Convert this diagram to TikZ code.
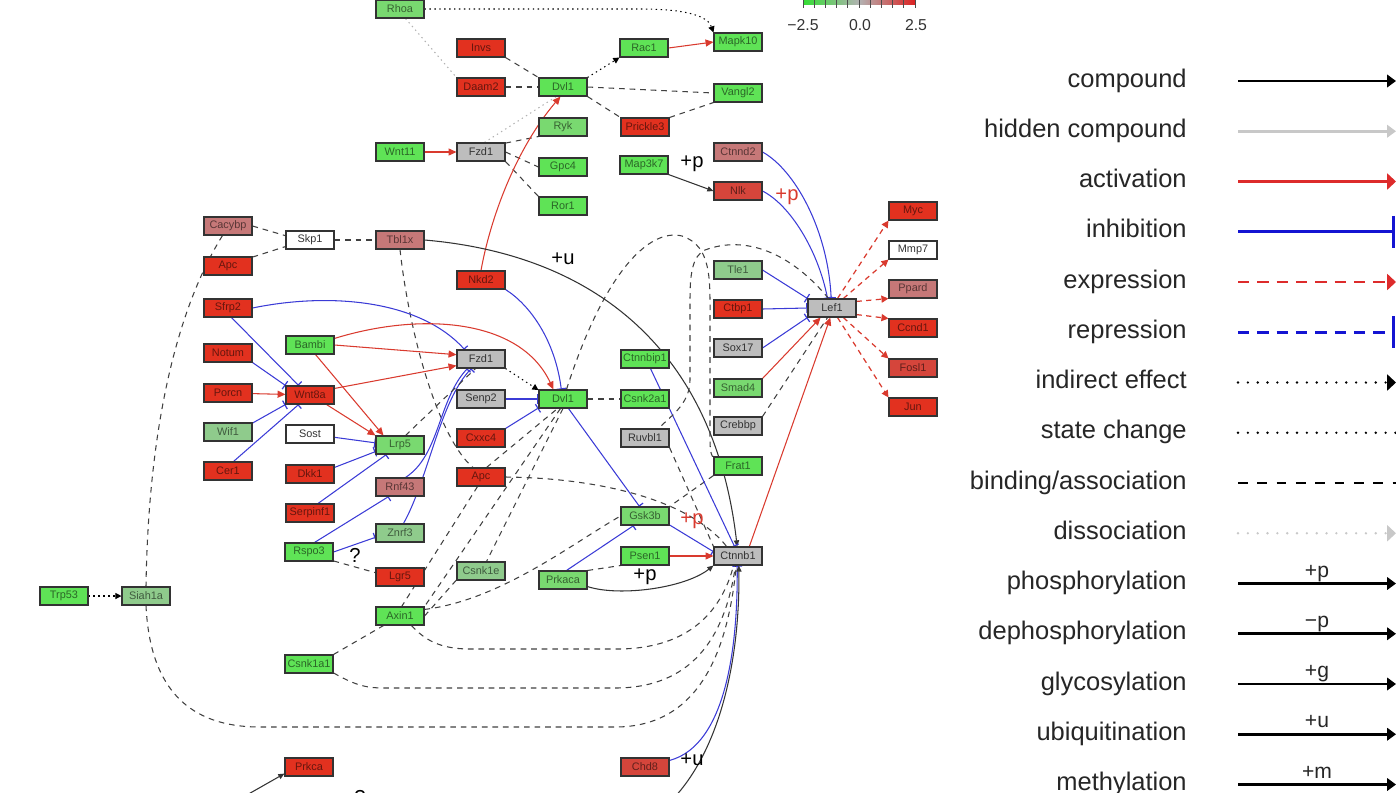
\documentclass[tikz,border=0pt]{standalone}
\usepackage{fontspec}
\setmainfont{Liberation Sans}
\usepackage{tikz}
\usetikzlibrary{arrows.meta,backgrounds}
\definecolor{kgreen}{HTML}{5FE356}
\definecolor{kmid}{HTML}{79D970}
\definecolor{kpale}{HTML}{8FCB8C}
\definecolor{kred}{HTML}{E2311F}
\definecolor{kredb}{HTML}{D5453B}
\definecolor{krose}{HTML}{C67878}
\definecolor{kgrey}{HTML}{BDBDBD}
\definecolor{kwhite}{HTML}{FFFFFF}
\definecolor{actred}{HTML}{D93A2E}
\definecolor{inhblue}{HTML}{3B3BD6}
\definecolor{legred}{HTML}{DD2B2B}
\definecolor{legblue}{HTML}{1414D2}
\definecolor{legsilver}{HTML}{C8C8C8}
\definecolor{cbgreen}{HTML}{33DD33}
\definecolor{cbred}{HTML}{DD2222}
\tikzset{
  gene/.style={rectangle,draw=black!80,line width=0.6pt,fill=#1,text=#1!45!black,
    minimum width=0.96cm,minimum height=0.36cm,inner sep=0pt,font=\fontsize{6.2}{7}\selectfont},
  gene/.default=kgreen,
  activ/.style={-{Triangle[length=4.5pt,width=4pt]},draw=actred,line width=0.6pt},
  inhib/.style={-{Bar[width=5.5pt,line width=0.7pt]},draw=inhblue,line width=0.6pt},
  bind/.style={draw=black!75,dash pattern=on 3.2pt off 2.8pt,line width=0.6pt},
  expr/.style={-{Triangle[length=4pt,width=4pt]},draw=actred,dash pattern=on 3pt off 2.5pt,line width=0.7pt},
  indir/.style={-{Triangle[length=3.5pt,width=3.5pt]},draw=black,dash pattern=on 0.8pt off 2pt,line width=0.6pt},
  dissoc/.style={draw=black!30,dash pattern=on 0.8pt off 2pt,line width=0.6pt},
  modif/.style={-{Triangle[length=3.5pt,width=3pt]},draw=black!80,line width=0.6pt},
  modlabel/.style={font=\fontsize{11.5}{12}\selectfont,inner sep=0pt},
  legtext/.style={anchor=base east,inner sep=0pt,font=\fontsize{14.5}{16}\selectfont,text=black!85},
  legline/.style={line width=1.5pt},
  legmod/.style={anchor=base,font=\fontsize{12}{13}\selectfont,inner sep=0pt,text=black!85}
}
\begin{document}
\begin{tikzpicture}[x=0.02cm,y=-0.02cm]
\useasboundingbox (0,0) rectangle (1396,792);

\node[gene=kmid] (rhoa) at (400,9) {Rhoa};
\node[gene=kgreen] (mapk) at (738,42) {Mapk10};
\node[gene=kred] (inv) at (481,48) {Invs};
\node[gene=kgreen] (rac) at (644,48) {Rac1};
\node[gene=kred] (daam) at (481,87) {Daam2};
\node[gene=kgreen] (dvlA) at (563,87) {Dvl1};
\node[gene=kgreen] (vangl) at (738,93) {Vangl2};
\node[gene=kmid] (ryk) at (563,127) {Ryk};
\node[gene=kred] (prickle) at (645,127) {Prickle3};
\node[gene=kgreen] (wnt11) at (400,152) {Wnt11};
\node[gene=kgrey,text=black!80] (fzdA) at (481,152) {Fzd1};
\node[gene=kgreen] (gpc) at (563,167) {Gpc4};
\node[gene=kgreen] (map3k7) at (644,165) {Map3k7};
\node[gene=krose] (ctnnd) at (738,152) {Ctnnd2};
\node[gene=kredb] (nlk) at (738,191) {Nlk};
\node[gene=kgreen] (ror) at (563,206) {Ror1};
\node[gene=kred] (myc) at (913,211) {Myc};
\node[gene=krose] (cacybp) at (228,226) {Cacybp};
\node[gene=kwhite,text=black!80] (skp) at (310,240) {Skp1};
\node[gene=krose] (tbl) at (400,240) {Tbl1x};
\node[gene=kwhite,text=black!80] (mmp) at (913,250) {Mmp7};
\node[gene=kred] (apcA) at (228,266) {Apc};
\node[gene=kpale] (tle) at (738,270) {Tle1};
\node[gene=kred] (nkd) at (481,280) {Nkd2};
\node[gene=krose] (ppard) at (913,289) {Ppard};
\node[gene=kred] (sfrp) at (228,308) {Sfrp2};
\node[gene=kred] (ctbp) at (738,309) {Ctbp1};
\node[gene=kgrey,text=black!80] (lef) at (832,308) {Lef1};
\node[gene=kred] (ccnd) at (913,328) {Ccnd1};
\node[gene=kgreen] (bambi) at (310,345) {Bambi};
\node[gene=kred] (notum) at (228,353) {Notum};
\node[gene=kgrey,text=black!80] (fzdB) at (481,359) {Fzd1};
\node[gene=kgreen] (ctnnbip) at (645,359) {Ctnnbip1};
\node[gene=kgrey,text=black!80] (sox) at (738,348) {Sox17};
\node[gene=kredb] (fosl) at (913,368) {Fosl1};
\node[gene=kred] (porcn) at (228,393) {Porcn};
\node[gene=kred] (wnt8) at (310,395) {Wnt8a};
\node[gene=kgrey,text=black!80] (senp) at (481,399) {Senp2};
\node[gene=kgreen] (dvlB) at (563,399) {Dvl1};
\node[gene=kgreen] (csnk2) at (645,399) {Csnk2a1};
\node[gene=kmid] (smad) at (738,388) {Smad4};
\node[gene=kred] (jun) at (913,407) {Jun};
\node[gene=kpale] (wif) at (228,432) {Wif1};
\node[gene=kwhite,text=black!80] (sost) at (310,434) {Sost};
\node[gene=kmid] (lrp) at (400,445) {Lrp5};
\node[gene=kred] (cxxc) at (481,438) {Cxxc4};
\node[gene=kgrey,text=black!80] (ruvbl) at (645,438) {Ruvbl1};
\node[gene=kgrey,text=black!80] (crebbp) at (738,426) {Crebbp};
\node[gene=kred] (cer) at (228,471) {Cer1};
\node[gene=kred] (dkk) at (310,474) {Dkk1};
\node[gene=kgreen] (frat) at (738,466) {Frat1};
\node[gene=kred] (apcB) at (481,477) {Apc};
\node[gene=krose] (rnf) at (400,487) {Rnf43};
\node[gene=kred] (serp) at (310,513) {Serpinf1};
\node[gene=kmid] (gsk) at (645,516) {Gsk3b};
\node[gene=kpale] (znrf) at (400,533) {Znrf3};
\node[gene=kgreen] (rspo) at (309,552) {Rspo3};
\node[gene=kgreen] (psen) at (645,556) {Psen1};
\node[gene=kgrey,text=black!80] (ctnnb) at (738,556) {Ctnnb1};
\node[gene=kred] (lgr) at (400,577) {Lgr5};
\node[gene=kpale] (csnk1e) at (481,571) {Csnk1e};
\node[gene=kmid] (prkaca) at (563,580) {Prkaca};
\node[gene=kgreen] (trp) at (64,596) {Trp53};
\node[gene=kpale] (siah) at (146,596) {Siah1a};
\node[gene=kgreen] (axin) at (400,616) {Axin1};
\node[gene=kgreen] (csnk1a) at (309,664) {Csnk1a1};
\node[gene=kred] (prkca) at (309,767) {Prkca};
\node[gene=kredb] (chd) at (645,767) {Chd8};

\node[modlabel] (lp1) at (692,164) {+p};
\node[modlabel,text=actred] (lp3) at (787,197) {+p};
\node[modlabel] (lu1) at (563,259) {+u};
\node[modlabel] (lq1) at (355,555) {?};
\node[modlabel,text=actred] (lp2) at (692,521) {+p};
\node[modlabel] (lp4) at (645,577) {+p};
\node[modlabel] (lu2) at (692,760) {+u};
\node[modlabel] (lq2) at (360,797) {?};
\coordinate (offu) at (672,800);
\coordinate (offk) at (238,800);

\begin{scope}[on background layer]
\draw[indir] (rhoa.east) -- (640,9) .. controls (690,9) and (708,17) .. (mapk.north west);
\draw[dissoc] (rhoa.-60) -- (daam.north west);
\draw[bind] (inv.south east) -- (dvlA.north west);
\draw[bind] (daam) -- (dvlA);
\draw[indir] (dvlA.north east) -- (rac.south west);
\draw[activ] (rac.east) -- (mapk.west);
\draw[bind] (dvlA.east) -- (vangl.west);
\draw[bind] (dvlA.south east) -- (prickle.north west);
\draw[bind] (prickle.north east) -- (vangl.south west);
\draw[activ] (wnt11) -- (fzdA);
\draw[bind] (fzdA.20) -- (ryk.south west);
\draw[bind] (fzdA.east) -- (gpc.west);
\draw[bind] (fzdA.south east) -- (ror.north west);
\draw[dissoc] (fzdA.70) -- (dvlA.-125);
\draw[activ] (nkd.north) .. controls (490,220) and (515,150) .. (dvlA.-105);
\draw[modif] (map3k7.south east) -- (nlk.west);
\draw[inhib] (ctnnd.east) .. controls (795,170) and (828,230) .. (lef.95);
\draw[inhib] (nlk.east) .. controls (790,205) and (818,250) .. (lef.115);
\draw[inhib] (tle.east) -- (lef.north west);
\draw[inhib] (ctbp.east) -- (lef.west);
\draw[inhib] (sox.east) -- (lef.south west);
\draw[activ] (smad.north east) -- (lef.-140);
\draw[bind] (crebbp.north east) -- (lef.-115);
\draw[activ] (ctnnb.40) -- (lef.-100);
\draw[expr] (lef.60) -- (myc.south west);
\draw[expr] (lef.40) -- (mmp.south west);
\draw[expr] (lef.15) -- (ppard.south west);
\draw[expr] (lef.-15) -- (ccnd.north west);
\draw[expr] (lef.-40) -- (fosl.north west);
\draw[expr] (lef.-60) -- (jun.north west);

\draw[bind] (cacybp.east) -- (skp.170);
\draw[bind] (apcA.20) -- (skp.-165);
\draw[bind] (skp) -- (tbl);
\draw[bind] (cacybp.-120) .. controls (170,320) and (148,450) .. (siah.north);
\draw[bind] (siah.south) .. controls (150,690) and (190,727) .. (260,727) -- (615,727) .. controls (700,727) and (728,650) .. (ctnnb.-100);
\draw[bind] (tbl.south) .. controls (410,340) and (440,440) .. (apcB.130);
\draw[modif] (tbl.east) .. controls (600,255) and (715,355) .. (ctnnb.95);
\draw[inhib] (sfrp.-70) -- (wnt8.140);
\draw[inhib] (sfrp.east) .. controls (330,292) and (420,300) .. (fzdB.150);
\draw[inhib] (notum.south east) -- (wnt8.north west);
\draw[activ] (porcn) -- (wnt8);
\draw[inhib] (wif.20) -- (wnt8.south west);
\draw[inhib] (cer.60) -- (wnt8.-140);
\draw[activ] (wnt8.15) -- (fzdB.-165);
\draw[activ] (bambi.east) -- (fzdB.170);
\draw[activ] (bambi.-60) -- (lrp.150);
\draw[activ] (wnt8.-30) -- (lrp.north west);
\draw[activ] (bambi.15) .. controls (420,312) and (520,318) .. (dvlB.135);
\draw[inhib] (sost) -- (lrp.175);
\draw[inhib] (dkk.15) -- (lrp.-165);
\draw[inhib] (serp.50) -- (lrp.-145);
\draw[inhib] (rspo.60) -- (rnf.-140);
\draw[inhib] (rspo.east) -- (znrf.-170);
\draw[bind] (rspo.-20) -- (lgr.170);
\draw[inhib] (rnf.60) .. controls (440,455) and (438,400) .. (fzdB.-145);
\draw[inhib] (znrf.70) .. controls (428,480) and (440,400) .. (fzdB.-135);
\draw[bind] (lrp.60) -- (fzdB.-120);
\draw[indir] (trp) -- (siah);

\draw[indir] (fzdB.south east) -- (dvlB.160);
\draw[inhib] (nkd.south east) .. controls (530,305) and (555,340) .. (dvlB.100);
\draw[inhib] (senp) -- (dvlB);
\draw[inhib] (cxxc.north east) -- (dvlB.-160);
\draw[bind] (dvlB) -- (csnk2);
\draw[inhib] (dvlB.-60) -- (gsk.120);
\draw[bind] (apcB.60) -- (dvlB.-120);
\draw[bind] (dvlB.-105) -- (axin.north east);
\draw[bind] (dvlB.-90) -- (csnk1e.60);
\draw[bind] (apcB.-110) -- (axin.80);
\draw[bind] (axin.east) -- (csnk1e.-160);
\draw[bind] (axin.15) .. controls (500,600) and (570,545) .. (gsk.west);
\draw[bind] (apcB.east) .. controls (600,478) and (690,500) .. (ctnnb.140);
\draw[bind] (ruvbl.south east) -- (ctnnb.north west);
\draw[bind] (frat.south west) -- (gsk.north east);
\draw[inhib] (ctnnbip.-60) -- (ctnnb.110);
\draw[inhib] (gsk.-20) -- (ctnnb.170);
\draw[activ] (psen) -- (ctnnb);
\draw[inhib] (prkaca.70) -- (gsk.-140);
\draw[bind] (prkaca.north east) -- (psen.south west);
\draw[modif] (prkaca.-15) .. controls (620,597) and (685,588) .. (ctnnb.south west);
\draw[inhib] (chd.15) .. controls (728,745) and (738,640) .. (ctnnb.-95);
\draw[modif] (offu) .. controls (720,750) and (740,660) .. (ctnnb.-85);
\draw[bind] (axin.-40) .. controls (425,640) and (440,649) .. (470,649) -- (617,649) .. controls (690,649) and (722,610) .. (ctnnb.-115);
\draw[bind] (csnk1a.north east) -- (axin.-150);
\draw[bind] (csnk1a.-20) .. controls (360,688) and (370,688) .. (390,688) -- (615,688) .. controls (690,688) and (725,640) .. (ctnnb.-105);
\draw[bind] (dvlB.70) .. controls (605,270) and (650,228) .. (682,236) .. controls (712,246) and (710,280) .. (710,320) -- (710,440) .. controls (710,452) and (712,458) .. (frat.north west);
\draw[bind] (lef.110) .. controls (790,252) and (745,235) .. (705,250) .. controls (692,256) and (690,275) .. (690,300) -- (690,380) .. controls (690,405) and (668,418) .. (ruvbl.35);
\draw[modif] (offk) -- (prkca.-165);
\end{scope}

\shade[left color=cbgreen,right color=cbred,middle color=black!30] (803,-6) rectangle (915,4);
\foreach \t in {0,...,10}
  \draw[black!70,line width=0.5pt] ({803+11.2*\t},-2) -- ({803+11.2*\t},8);
\node[font=\fontsize{9}{10}\selectfont,text=black!80] (cb1) at (803,25) {−2.5};
\node[font=\fontsize{9}{10}\selectfont,text=black!80] (cb2) at (860,25) {0.0};
\node[font=\fontsize{9}{10}\selectfont,text=black!80] (cb3) at (916,25) {2.5};

\foreach \lab [count=\i from 0] in {compound,hidden compound,activation,inhibition,expression,repression,indirect effect,state change,{binding/association},dissociation,phosphorylation,dephosphorylation,glycosylation,ubiquitination,methylation}
  \node[legtext] (lg\i) at (1187,{87+50.25*\i}) {\lab};
\draw[legline,black,-{Triangle[length=5pt,width=7pt]}] (1238,81) -- (1396,81);
\draw[legline,legsilver,-{Triangle[length=5pt,width=7pt]}] (1238,131.25) -- (1396,131.25);
\draw[legline,legred,-{Triangle[length=5pt,width=9pt]}] (1238,181.5) -- (1396,181.5);
\draw[legline,legblue,-{Bar[width=18pt,line width=2pt]}] (1238,231.75) -- (1395,231.75);
\draw[legline,legred,dash pattern=on 6.5pt off 4.5pt,-{Triangle[length=5pt,width=9pt]}] (1238,282) -- (1396,282);
\draw[legline,legblue,dash pattern=on 6.5pt off 4.5pt,-{Bar[width=18pt,line width=2pt]}] (1238,332.25) -- (1395,332.25);
\draw[legline,black,line cap=round,dash pattern=on 0pt off 5.6pt,-{Triangle[length=5pt,width=9pt]}] (1238,382.5) -- (1396,382.5);
\draw[legline,black,line cap=round,dash pattern=on 0pt off 5.6pt] (1238,432.75) -- (1396,432.75);
\draw[legline,black,dash pattern=on 5.5pt off 5.5pt] (1238,483) -- (1396,483);
\draw[legline,legsilver,line cap=round,dash pattern=on 0pt off 5.6pt,-{Triangle[length=5pt,width=9pt]}] (1238,533.25) -- (1396,533.25);
\foreach \m [count=\i from 0] in {+p,−p,+g,+u,+m}
  {\draw[legline,black,-{Triangle[length=5pt,width=7pt]}] (1238,{583.5+50.25*\i}) -- (1396,{583.5+50.25*\i});
   \node[legmod] (lm\i) at (1317,{577+50.25*\i}) {\m};}
\end{tikzpicture}
\end{document}
